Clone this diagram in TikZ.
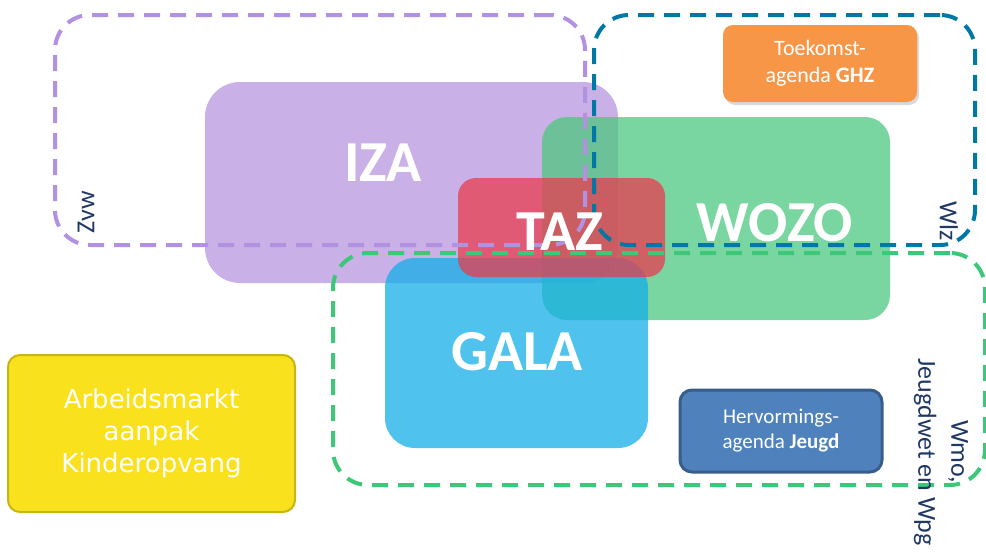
\documentclass[tikz,border=0pt]{standalone}
\usepackage{fontspec}
\setmainfont{Carlito}
\newfontfamily\verdana{DejaVu Sans}
\usepackage{tikz}
\usetikzlibrary{shadows}
\definecolor{izapaars}{RGB}{183,150,222}
\definecolor{wozogroen}{RGB}{78,200,128}
\definecolor{galablauw}{RGB}{20,175,232}
\definecolor{tazrood}{RGB}{232,60,80}
\definecolor{zvwlijn}{RGB}{178,145,225}
\definecolor{wlzlijn}{RGB}{0,120,165}
\definecolor{wmolijn}{RGB}{60,200,120}
\definecolor{ghzoranje}{RGB}{247,150,70}
\definecolor{jeugdblauw}{RGB}{79,129,189}
\definecolor{jeugdrand}{RGB}{56,93,138}
\definecolor{kogeel}{RGB}{249,225,30}
\definecolor{korand}{RGB}{200,180,20}
\definecolor{wetblauw}{RGB}{31,56,100}

\begin{document}
\begin{tikzpicture}[x=1pt,y=-1pt,inner sep=0pt]
 \tikzstyle{vlak}=[rectangle,fill opacity=0.75]
 \tikzstyle{kader}=[rectangle,line width=4pt,dash pattern=on 16pt off 10pt,rounded corners=35pt]
 \tikzstyle{groot}=[text=white,font=\fontsize{58}{60}\selectfont\bfseries]
 \tikzstyle{wet}=[text=wetblauw,font=\fontsize{26}{33}\selectfont,align=center]
 \tikzstyle{knop}=[rectangle,text=white,align=center,rounded corners=12pt]

   \useasboundingbox (0,0) rectangle (986,554);

   % programma's
   \node[vlak,fill=izapaars,minimum width=413pt,minimum height=201pt,rounded corners=35pt] (iza) at (411.5,182.5) {};
   \node[vlak,fill=wozogroen,minimum width=348pt,minimum height=203pt,rounded corners=25pt] (wozo) at (716,218.5) {};
   \node[vlak,fill=galablauw,minimum width=263pt,minimum height=190pt,rounded corners=30pt] (gala) at (516.5,353) {};
   \node[vlak,fill=tazrood,minimum width=207pt,minimum height=99pt,rounded corners=18pt] (taz) at (561.5,227.5) {};

   % wetten
   \node[kader,draw=zvwlijn,minimum width=530pt,minimum height=230pt] (zvw) at (320,130) {};
   \node[kader,draw=wlzlijn,minimum width=381pt,minimum height=230pt] (wlz) at (784.5,130) {};
   \node[kader,draw=wmolijn,minimum width=652pt,minimum height=232pt] (wmo) at (659,369) {};

   \node[wet,rotate=90] (zvwtekst) at (86,212) {Zvw};
   \node[wet,rotate=-90] (wlztekst) at (949,221) {Wlz};
   \node[wet,rotate=-90] (wmotekst) at (941,452) {Wmo,\\Jeugdwet en Wpg};

   \node[groot] (izatekst) at (383,163) {IZA};
   \node[groot] (wozotekst) at (775,223) {WOZO};
   \node[groot] (galatekst) at (517,352) {GALA};
   \node[groot] (taztekst) at (560,232) {TAZ};

   % agenda's
   \node[knop,fill=ghzoranje,rounded corners=10pt,minimum width=194pt,minimum height=77pt,
         drop shadow={opacity=0.3,shadow xshift=2pt,shadow yshift=-3pt},
         font=\fontsize{22}{27}\selectfont] (ghz) at (820,63.5) {Toekomst-\\agenda \textbf{GHZ}};
   \node[knop,fill=jeugdblauw,draw=jeugdrand,line width=3pt,minimum width=202pt,minimum height=82pt,
         font=\fontsize{21}{25}\selectfont] (jeugd) at (781,431) {Hervormings-\\agenda \textbf{Jeugd}};
   \node[knop,fill=kogeel,draw=korand,line width=2pt,minimum width=287pt,minimum height=157pt,
         font=\verdana\fontsize{26}{32}\selectfont] (kinder) at (151.5,433.5) {Arbeidsmarkt\\aanpak\\Kinderopvang};

\end{tikzpicture}
\end{document}
